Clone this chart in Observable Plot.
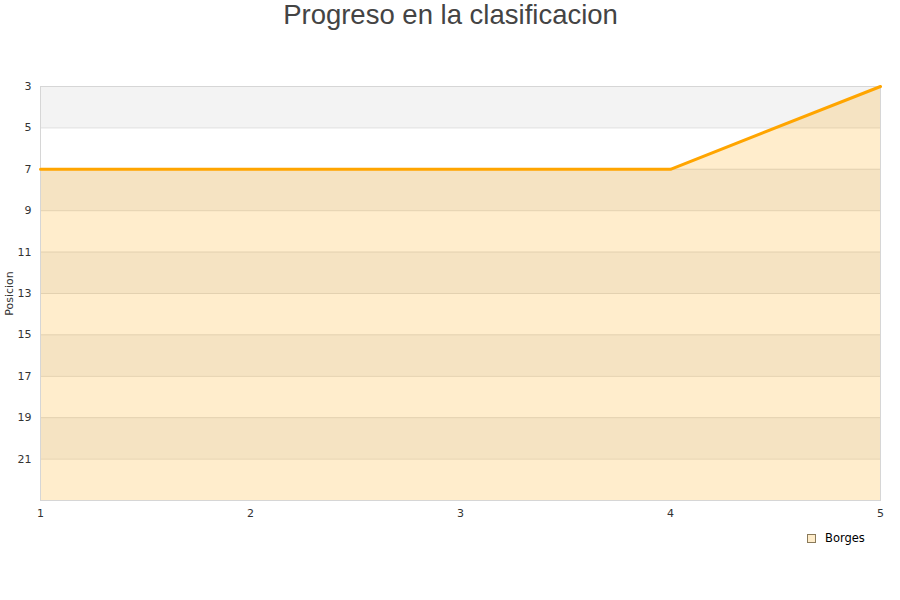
<!DOCTYPE html>
<html><head><meta charset="utf-8">
<script src="https://cdn.jsdelivr.net/npm/d3@7"></script>
<script src="https://cdn.jsdelivr.net/npm/@observablehq/plot@0.6"></script>
<style>
body{margin:0;background:#fff;}
#wrap{position:relative;width:900px;height:600px;}
#legend{position:absolute;left:807px;top:531px;font:11.5px "DejaVu Sans",sans-serif;color:#000;display:flex;align-items:center;}
#legend span.sw{display:inline-block;width:7px;height:7px;background:#feecca;border:1px solid #8a7a5a;margin-right:9px;}
</style></head>
<body><div id="wrap"><div id="legend"><span class="sw"></span>Borges</div></div>
<script>
const title = "Progreso en la clasificacion";
const series = "Borges";
const rounds = [1, 2, 3, 4, 5];
const positions = [7, 7, 7, 7, 3];
const yTicks = [3, 5, 7, 9, 11, 13, 15, 17, 19, 21];
const bandStarts = [3, 7, 11, 15, 19];
const yDomain = [3, 23];

const data = rounds.map((r, i) => ({round: r, pos: positions[i]}));
const bands = bandStarts.map(b => ({y1: b, y2: b + 2}));

const chart = Plot.plot({
  width: 900, height: 600,
  marginLeft: 40, marginRight: 20, marginTop: 86, marginBottom: 100,
  style: {fontFamily: "'DejaVu Sans', sans-serif", fontSize: "11px", color: "#333", background: "#fff"},
  x: {domain: [1, 5], ticks: rounds, tickFormat: d => d, tickSize: 0, tickPadding: 9, label: null},
  y: {domain: yDomain, reverse: true, ticks: yTicks, tickSize: 0, tickPadding: 9, label: "Posicion", labelAnchor: "center", labelArrow: "none", labelOffset: 35},
  marks: [
    Plot.rectY(bands, {x1: 1, x2: 5, y1: "y1", y2: "y2", fill: "#f3f3f3"}),
    Plot.ruleY(yTicks.concat([yDomain[1]]), {stroke: "#dddddd", strokeWidth: 1}),
    Plot.areaY(data, {x: "round", y1: yDomain[1], y2: "pos", fill: "orange", fillOpacity: 0.2}),
    Plot.frame({stroke: "#d6d6d6"}),
    Plot.line(data, {x: "round", y: "pos", stroke: "orange", strokeWidth: 3}),
    Plot.text([title], {frameAnchor: "top", dy: -71, dx: -10, fontSize: 27.5, fill: "#444", fontFamily: "'Liberation Sans', Arial, sans-serif", lineAnchor: "middle"})
  ]
});
document.getElementById("wrap").prepend(chart);
</script>
</body></html>
